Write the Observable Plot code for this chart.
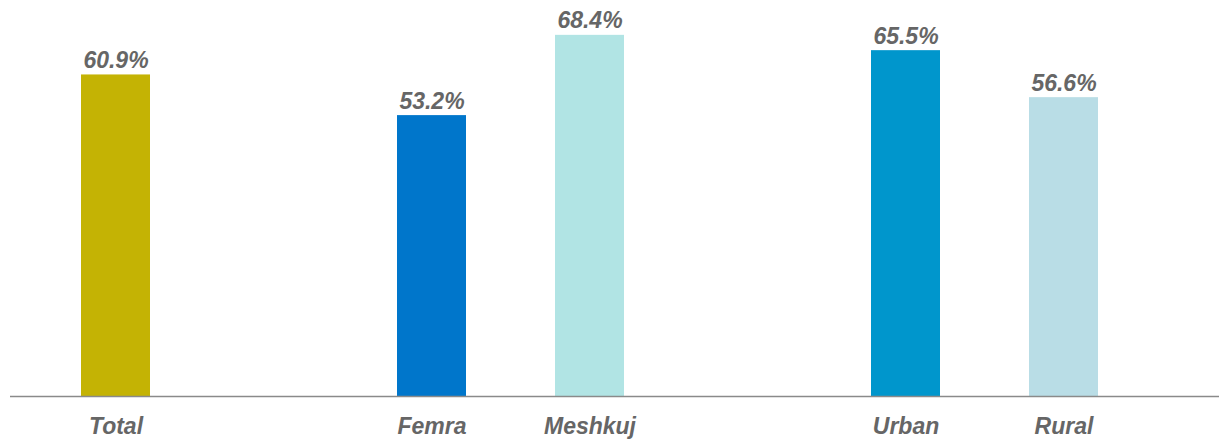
<!DOCTYPE html>
<html>
<head>
<meta charset="utf-8">
<script src="https://cdn.jsdelivr.net/npm/d3@7"></script>
<script src="https://cdn.jsdelivr.net/npm/@observablehq/plot@0.6"></script>
<style>
  html, body { margin: 0; padding: 0; background: #fff; }
</style>
</head>
<body>
<div id="chart"></div>
<script>
const categories = ["Total", "Femra", "Meshkuj", "Urban", "Rural"];
const values = [60.9, 53.2, 68.4, 65.5, 56.6];
const colors = ["#c4b304", "#0076cb", "#b1e4e4", "#0096cc", "#b9dde6"];
const slots = ["Total", "gap1", "Femra", "Meshkuj", "gap2", "Urban", "Rural"];

const data = categories.map((c, i) => ({category: c, value: values[i], color: colors[i]}));
const font = "'Liberation Sans', Arial, Helvetica, sans-serif";

const chart = Plot.plot({
  width: 1219,
  height: 439,
  marginLeft: 33,
  marginRight: 74,
  marginTop: 0,
  marginBottom: 43,
  style: {fontFamily: font, background: "#fff"},
  x: {domain: slots, paddingInner: 0.565, paddingOuter: 0.2825, label: null},
  y: {domain: [0, 75], axis: null},
  marks: [
    Plot.barY(data, {x: "category", y: "value", fill: d => d.color}),
    Plot.ruleY([0], {stroke: "#8a8a8a", strokeWidth: 1.5, insetLeft: -23, insetRight: -87}),
    Plot.text(data, {
      x: "category", y: "value",
      text: d => d.value.toFixed(1) + "%",
      lineAnchor: "bottom", dy: -7,
      fontSize: 23, fontWeight: "bold", fontStyle: "italic",
      fill: "#666666"
    }),
    Plot.axisX({
      tickSize: 0, tickPadding: 21,
      tickFormat: d => d.startsWith("gap") ? "" : d,
      fontSize: 23, fontWeight: "bold", fontStyle: "italic",
      fill: "#666666", label: null
    })
  ]
});
document.getElementById("chart").appendChild(chart);
</script>
</body>
</html>
